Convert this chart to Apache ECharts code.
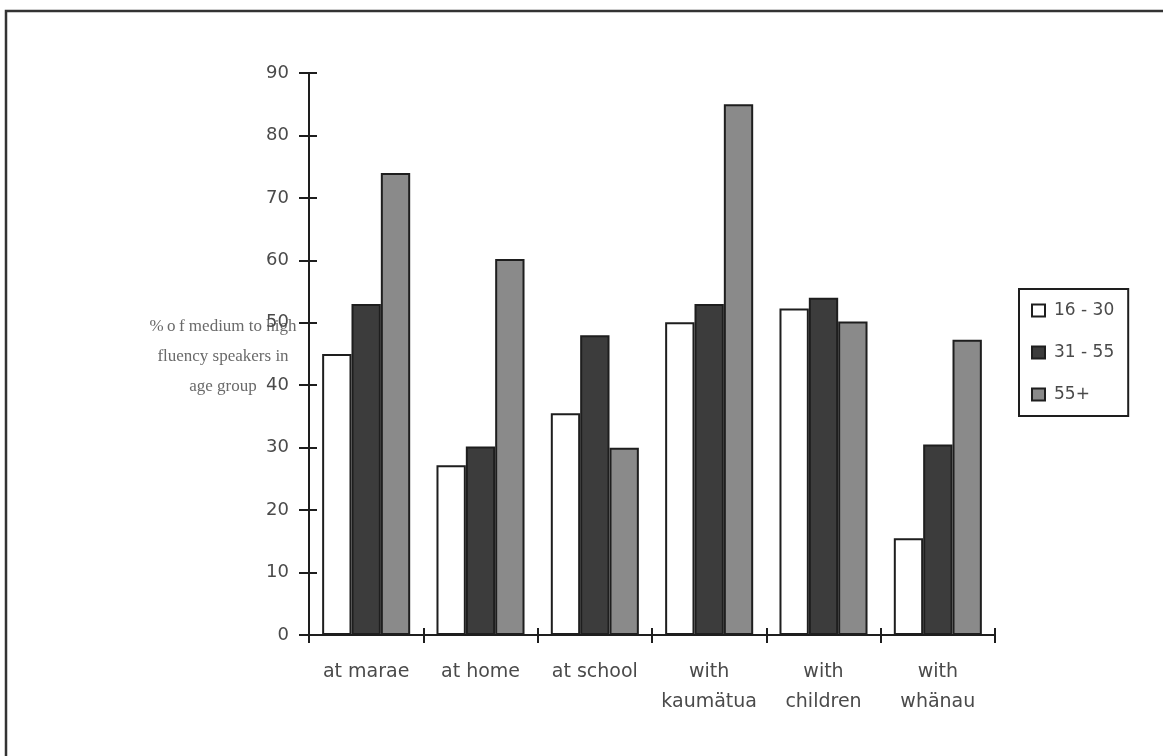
<!DOCTYPE html>
<html>
<head>
<meta charset="utf-8">
<title>Medium to high fluency speakers by age group</title>
<script src="https://cdn.jsdelivr.net/npm/echarts@6/dist/echarts.min.js"></script>
<style>
  html, body { margin: 0; padding: 0; background: #fff; }
  #chart { width: 1163px; height: 756px; }
</style>
</head>
<body>
<div id="chart"></div>
<script>
// Places where te reo is used, percentage of medium-to-high fluency speakers per age group
const categories = ['at marae', 'at home', 'at school', 'with\nkaumätua', 'with\nchildren', 'with\nwhänau'];
const ageGroups = ['16 - 30', '31 - 55', '55+'];
const age16to30 = [45, 27.2, 35.5, 50.1, 52.3, 15.5];
const age31to55 = [53, 30.2, 48, 53, 54, 30.5];
const age55plus = [74, 60.2, 30, 85, 50.2, 47.3];
const yTicks = { min: 0, max: 90, interval: 10 };

const chart = echarts.init(document.getElementById('chart'), null, { renderer: 'canvas' });

const labelFont = '"DejaVu Sans ExtraLight", "DejaVu Sans", sans-serif';
const ink = '#1e1e1e';
const textInk = '#4a4a4a';
const fills = ['#ffffff', '#3c3c3c', '#8a8a8a'];

function barSeries(name, data, fill) {
  return {
    name: name,
    type: 'bar',
    data: data,
    xAxisIndex: 0,
    yAxisIndex: 0,
    barGap: '0%',
    barCategoryGap: '23%',
    itemStyle: { color: fill, borderColor: ink, borderWidth: 2 }
  };
}

const option = {
  backgroundColor: '#ffffff',
  animation: false,
  grid: { left: 309, right: 168, top: 73, bottom: 121, containLabel: false },
  legend: {
    orient: 'vertical',
    left: 1019,
    top: 289,
    width: 80,
    padding: [13, 14, 13, 12],
    itemGap: 25,
    itemWidth: 13,
    itemHeight: 12,
    icon: 'rect',
    borderColor: ink,
    borderWidth: 2,
    textStyle: { fontFamily: labelFont, fontSize: 17, color: textInk, padding: [0, 0, 0, 4] },
    data: ageGroups
  },
  xAxis: [
    {
      type: 'category',
      data: categories,
      axisLine: { lineStyle: { color: ink, width: 2 } },
      axisTick: { show: true, length: 8, lineStyle: { color: ink, width: 2 } },
      axisLabel: {
        fontFamily: labelFont, fontSize: 19, color: textInk,
        lineHeight: 30, margin: 22, interval: 0
      }
    },
    {
      type: 'category',
      data: categories,
      position: 'bottom',
      axisLine: { show: false },
      axisTick: { show: true, inside: true, length: 7, lineStyle: { color: ink, width: 2 } },
      axisLabel: { show: false }
    }
  ],
  yAxis: [
    {
      type: 'value',
      min: yTicks.min,
      max: yTicks.max,
      interval: yTicks.interval,
      axisLine: { show: true, lineStyle: { color: ink, width: 2 } },
      axisTick: { show: true, length: 10, lineStyle: { color: ink, width: 2 } },
      splitLine: { show: false },
      axisLabel: { fontFamily: labelFont, fontSize: 18, color: textInk, margin: 20 }
    },
    {
      type: 'value',
      position: 'left',
      min: yTicks.min,
      max: yTicks.max,
      interval: yTicks.interval,
      axisLine: { show: false },
      axisTick: { show: true, inside: true, length: 8, lineStyle: { color: ink, width: 2 } },
      splitLine: { show: false },
      axisLabel: { show: false }
    }
  ],
  series: [
    barSeries(ageGroups[0], age16to30, fills[0]),
    barSeries(ageGroups[1], age31to55, fills[1]),
    barSeries(ageGroups[2], age55plus, fills[2])
  ],
  graphic: [
    {
      type: 'rect',
      shape: { x: 6, y: 11, width: 1170, height: 760 },
      style: { fill: 'none', stroke: '#333', lineWidth: 2.5 },
      silent: true
    },
    {
      type: 'text',
      x: 223,
      y: 312,
      style: {
        text: '%\u2009o\u2009f medium to high\nfluency speakers in\nage group',
        fontFamily: '"Liberation Serif", "DejaVu Serif", serif',
        fontSize: 17,
        lineHeight: 30,
        fill: '#6a6a6a',
        align: 'center',
        verticalAlign: 'top'
      },
      silent: true
    }
  ]
};

chart.setOption(option);
</script>
</body>
</html>
